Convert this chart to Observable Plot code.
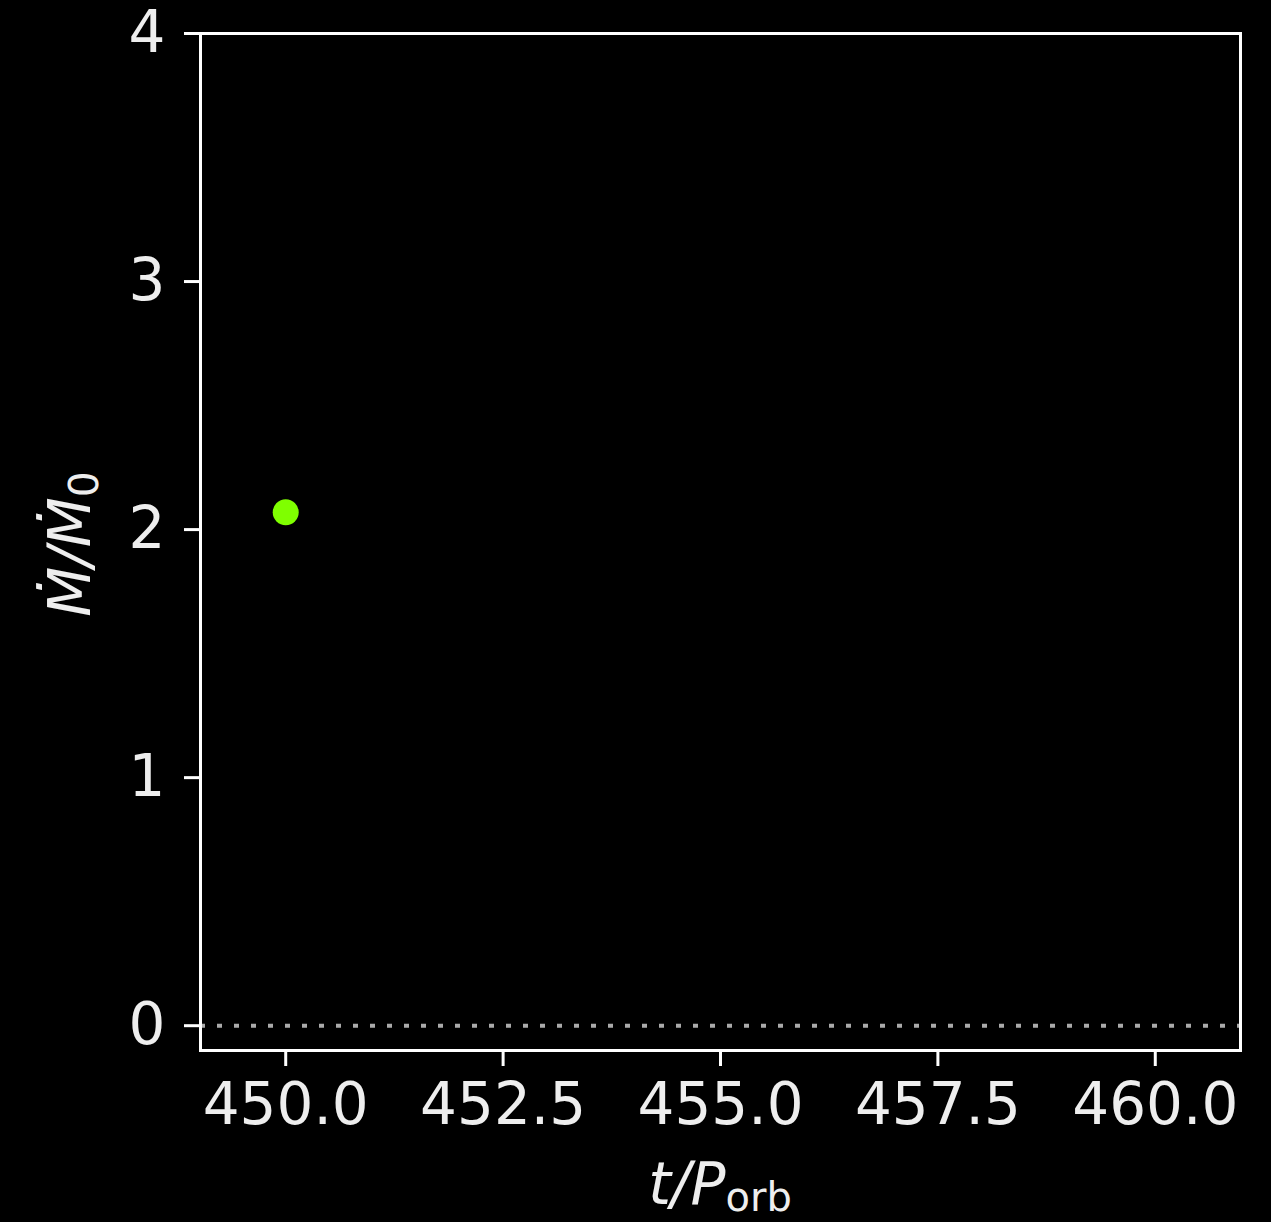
<!DOCTYPE html>
<html><head><meta charset="utf-8">
<script src="https://cdn.jsdelivr.net/npm/d3@7"></script>
<script src="https://cdn.jsdelivr.net/npm/@observablehq/plot@0.6"></script>
<style>
html,body{margin:0;padding:0;background:#000;}
#chart svg{display:block;}
</style></head><body><div id="chart"></div>
<script>
// data
const times = [450.0];
const mdot = [2.07];
const xTicks = [450, 452.5, 455, 457.5, 460];
const yTicks = [0, 1, 2, 3, 4];
const xDomain = [449.02, 460.98];
const yDomain = [-0.1, 4];
const refLevel = [0];

const data = times.map((t, i) => ({t, m: mdot[i]}));

const chart = Plot.plot({
  width: 1271, height: 1222,
  marginLeft: 200, marginRight: 31, marginTop: 33, marginBottom: 172,
  style: {background: "#000", color: "#eee", fontFamily: "DejaVu Sans", fontSize: "58px", overflow: "visible"},
  x: {domain: xDomain},
  y: {domain: yDomain},
  marks: [
    Plot.ruleY(refLevel, {stroke: "#aaa", strokeWidth: 4, strokeDasharray: "5,12"}),
    Plot.frame({stroke: "#fff", strokeWidth: 3}),
    Plot.axisX({ticks: xTicks, tickFormat: d3.format(".1f"), tickSize: 16, tickPadding: 16,
      stroke: "#fff", strokeWidth: 3, label: null, fontSize: 58, fill: "#eee"}),
    Plot.axisY({ticks: yTicks, tickFormat: d3.format("d"), tickSize: 16, tickPadding: 19,
      stroke: "#fff", strokeWidth: 3, label: null, fontSize: 58, fill: "#eee"}),
    Plot.dot(data, {x: "t", y: "m", r: 13, fill: "#7fff00"})
  ]
});
document.getElementById("chart").appendChild(chart);

const svg = d3.select(chart);
const xl = svg.append("text")
  .attr("x", 720).attr("y", 1204)
  .attr("text-anchor", "middle")
  .attr("fill", "#eee")
  .style("font-family", "DejaVu Sans").style("font-size", "58px");
xl.append("tspan").style("font-style", "italic").text("t/P");
xl.append("tspan").attr("dy", 7).style("font-size", "40px").text("orb");

const yl = svg.append("text")
  .attr("transform", "translate(90,544) rotate(-90)")
  .attr("text-anchor", "middle")
  .attr("fill", "#eee")
  .style("font-family", "DejaVu Sans").style("font-size", "58px");
yl.append("tspan").style("font-style", "italic").text("Ṁ/Ṁ");
yl.append("tspan").attr("dy", 8).style("font-size", "41px").text("0");
</script></body></html>
